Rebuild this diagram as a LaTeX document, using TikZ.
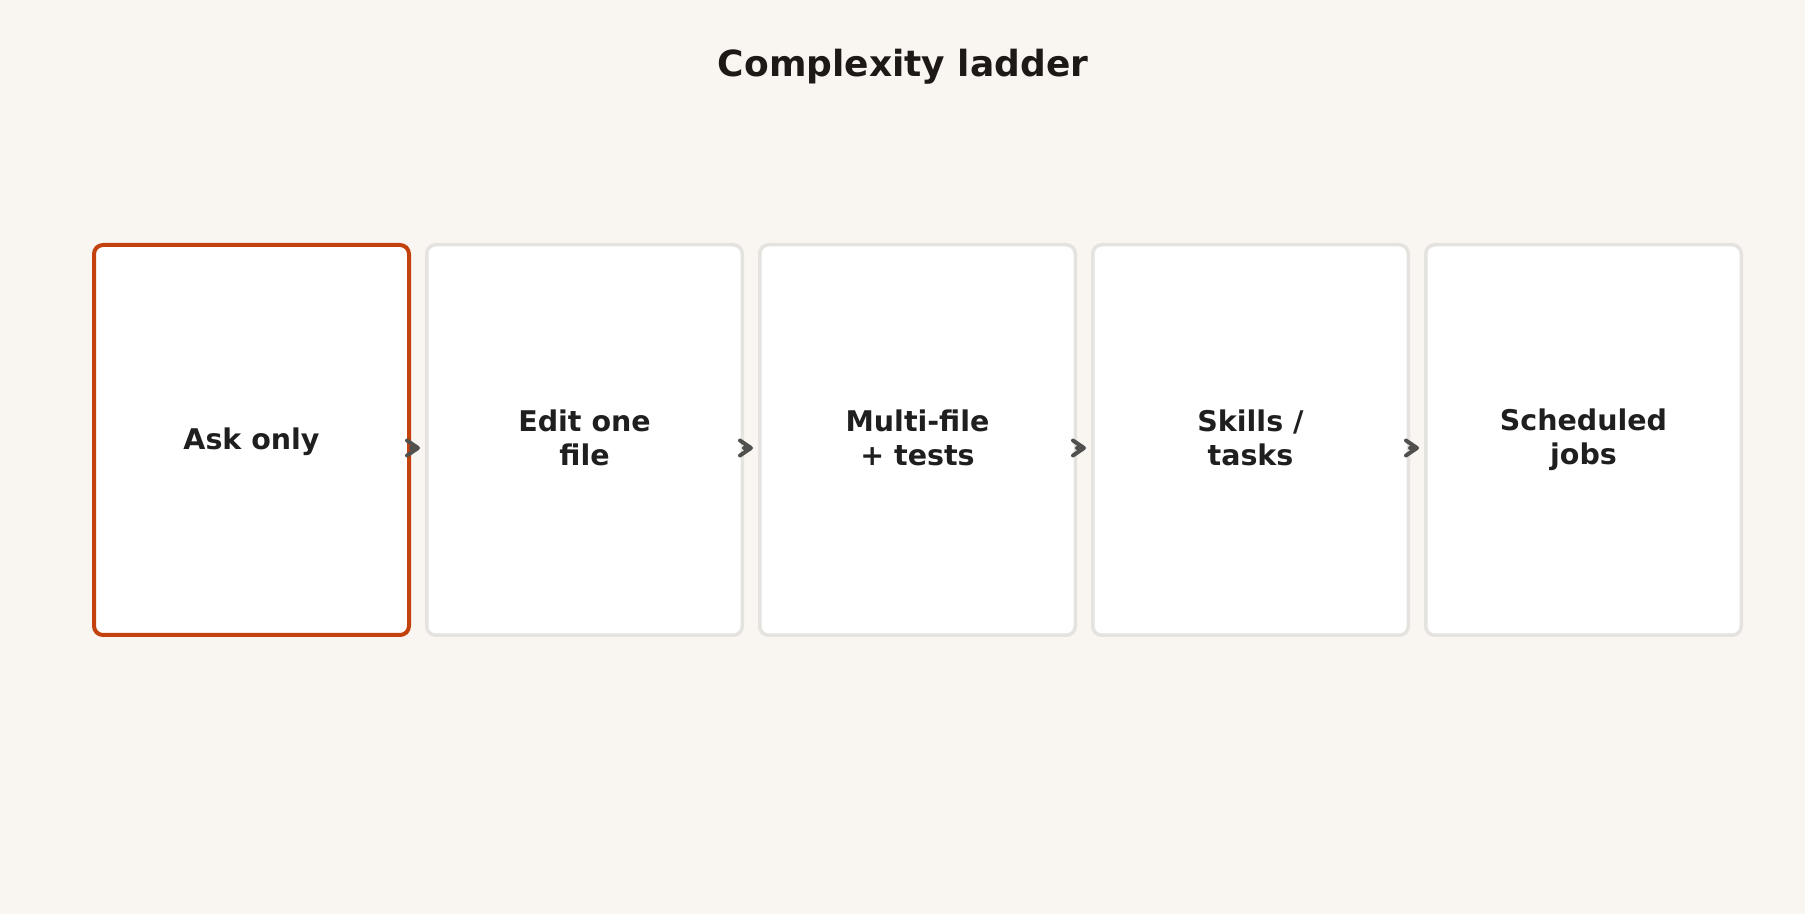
\documentclass[tikz,border=0pt]{standalone}
\usepackage{fontspec}
\setmainfont{DejaVu Sans}
\usetikzlibrary{arrows.meta}
\definecolor{paper}{RGB}{249,246,241}
\definecolor{edge}{RGB}{229,227,223}
\definecolor{accent}{RGB}{194,65,12}
\definecolor{ink}{RGB}{31,31,31}
\definecolor{darkink}{RGB}{28,25,23}
\definecolor{link}{RGB}{80,80,78}
\newcommand{\p}{333pt}

\begin{document}
\begin{tikzpicture}[x=1pt, y=1pt,
    stage/.style={draw=edge, line width=3.5pt, fill=white, rounded corners=9pt, minimum width=315.5pt, minimum height=390.5pt, inner sep=0pt, align=center, text=ink, font=\fontsize{28.5}{33.5}\selectfont\bfseries, execute at begin node=\rule{0pt}{26pt}, execute at end node=\rule[-5pt]{0pt}{5pt}},
    current/.style={stage, draw=accent, line width=4pt, minimum width=315pt, minimum height=390pt},
    next/.style={draw=link, line width=4pt, line cap=round, -{Straight Barb[length=11pt, width=15pt, round]}, shorten >=5pt}]
    \fill[paper] (0,0) rectangle (1805,914);

    % Title
    \node[anchor=base, text=darkink, font=\fontsize{36}{42}\selectfont\bfseries] (title) at (903,837) {Complexity ladder};

    % Ladder
    \node[current] (stage-1) at (251.5,474) {Ask only};
    \node[stage] (stage-2) at (251.5+1*\p,474) {Edit one\\file};
    \node[stage] (stage-3) at (251.5+2*\p,474) {Multi-file\\+ tests};
    \node[stage] (stage-4) at (251.5+3*\p,474) {Skills /\\tasks};
    \node[stage] (stage-5) at (251.5+4*\p,474) {Scheduled\\jobs};

    % Arrows
    \foreach \a/\b in {1/2, 2/3, 3/4, 4/5}
        \draw[next] ([yshift=-8pt]stage-\a.east) -- ([yshift=-8pt]stage-\b.west);

\end{tikzpicture}
\end{document}
